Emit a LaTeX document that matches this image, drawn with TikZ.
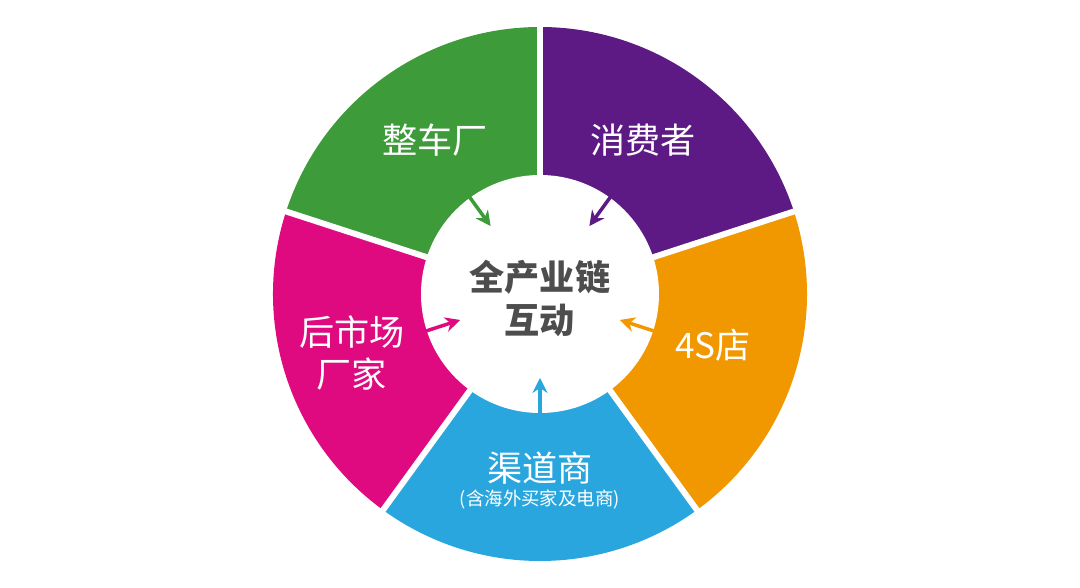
\documentclass[tikz,border=0pt]{standalone}
\usepackage{fontspec}
\newfontfamily\cjk{Noto Sans CJK SC}
\usepackage{tikz}
\usetikzlibrary{arrows.meta,positioning}
\definecolor{chaingreen}{RGB}{62,155,58}
\definecolor{chainpurple}{RGB}{94,26,132}
\definecolor{chainorange}{RGB}{241,152,0}
\definecolor{chainblue}{RGB}{42,166,222}
\definecolor{chainmagenta}{RGB}{224,10,128}
\definecolor{chaingray}{RGB}{77,77,77}
\begin{document}
\begin{tikzpicture}[x=0.02cm,y=0.02cm,
    sectorlabel/.style={text=white,font=\cjk\fontsize{20}{24}\selectfont,align=center},
    sublabel/.style={text=white,font=\cjk\fontsize{10.5}{12}\selectfont},
    inarrow/.style={line width=2pt,-{Stealth[length=8.5pt,width=8.5pt]}}]
    \useasboundingbox (-540,-294) rectangle (540,294);
    \fill [chainpurple] (0,0)--(90:267) arc (90:18:267)--cycle;
    \fill [chainorange] (0,0)--(18:267) arc (18:-54:267)--cycle;
    \fill [chainblue] (0,0)--(-54:267) arc (-54:-126:267)--cycle;
    \fill [chainmagenta] (0,0)--(-126:267) arc (-126:-198:267)--cycle;
    \fill [chaingreen] (0,0)--(162:267) arc (162:90:267)--cycle;
    \draw [white,line width=3.4pt] (0,0)--(90:280);
    \draw [white,line width=3.4pt] (0,0)--(18:280);
    \draw [white,line width=3.4pt] (0,0)--(-54:280);
    \draw [white,line width=3.4pt] (0,0)--(-126:280);
    \draw [white,line width=3.4pt] (0,0)--(162:280);
    \node [circle,fill=white,minimum size=238*0.02cm,inner sep=0pt] (hub) at (0,0) {};
    \node [text=chaingray,font=\cjk\bfseries\fontsize{20}{24.5}\selectfont,align=center] (hubtext) at (0,-4) {全产业链\\互动};
    \node [sectorlabel] (oem) at (-105,154) {整车厂};
    \node [sectorlabel] (consumer) at (103,154) {消费者};
    \node [sectorlabel] (dealer) at (173,-51) {4S店};
    \node [sectorlabel] (after) at (-188,-59) {后市场\\厂家};
    \node [sectorlabel] (channel) at (0,-174) {渠道商};
    \node [sublabel,below=-4pt of channel] (channelsub) {(含海外买家及电商)};
    \coordinate (g1) at (126:122); \coordinate (g2) at (126:84);
    \coordinate (p1) at (54:122); \coordinate (p2) at (54:84);
    \coordinate (o1) at (-18:122); \coordinate (o2) at (-18:84);
    \coordinate (b1) at (-90:122); \coordinate (b2) at (-90:84);
    \coordinate (m1) at (198:122); \coordinate (m2) at (198:84);
    \draw [inarrow,chaingreen] (g1)--(g2);
    \draw [inarrow,chainpurple] (p1)--(p2);
    \draw [inarrow,chainorange] (o1)--(o2);
    \draw [inarrow,chainblue] (b1)--(b2);
    \draw [inarrow,chainmagenta] (m1)--(m2);
\end{tikzpicture}
\end{document}
